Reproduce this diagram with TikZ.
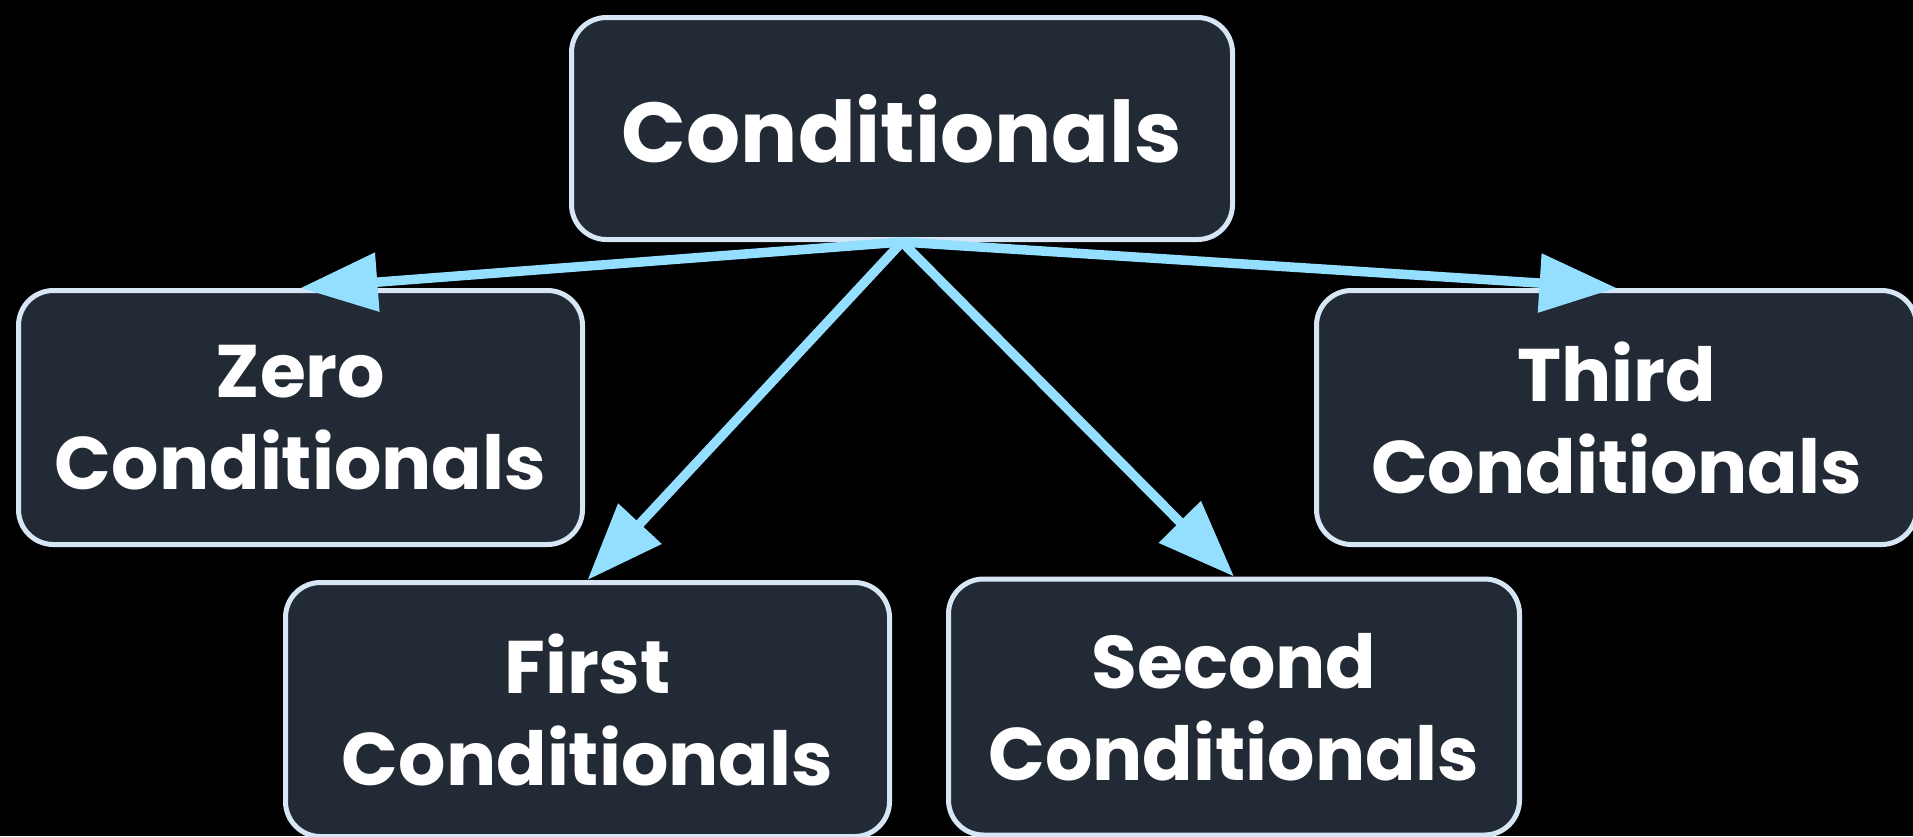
\documentclass[tikz,border=0pt]{standalone}
\usepackage{fontspec}
\setmainfont{Poppins}[BoldFont={* Bold}]
\usetikzlibrary{arrows.meta}
\definecolor{bgc}{HTML}{000000}
\definecolor{boxfill}{HTML}{222A35}
\definecolor{boxline}{HTML}{D6E6F5}
\definecolor{arrowc}{HTML}{94DFFF}
\tikzset{
  card/.style={draw=boxline, fill=boxfill, line width=5pt, rounded corners=35pt,
    inner sep=0pt, text=white, align=center, font=\bfseries\fontsize{74.5}{92}\selectfont},
  rootcard/.style={card, font=\bfseries\fontsize{85}{92}\selectfont},
  link/.style={draw=arrowc, line width=9.5pt, -{Triangle[length=77pt,width=57pt]}}
}
\begin{document}
\begin{tikzpicture}[x=1pt,y=-1pt]
  \fill[bgc] (0,0) rectangle (1913,836);
  \useasboundingbox (0,0) rectangle (1913,836);
  \node[rootcard, minimum width=661pt, minimum height=222pt] (root) at (902,128.5) {Conditionals};
  \node[card, minimum width=564pt, minimum height=254pt] (zero) at (300.5,417.5) {Zero\\Conditionals};
  \node[card, minimum width=600pt, minimum height=254pt] (third) at (1616.5,417.5) {Third\\Conditionals};
  \node[card, minimum width=604pt, minimum height=254pt] (first) at (587.5,709.5) {First\\Conditionals};
  \node[card, minimum width=571pt, minimum height=256pt] (second) at (1234,707) {Second\\Conditionals};
  \draw[link] (root.south) -- (zero.north);
  \draw[link] (root.south) -- (third.north);
  \draw[link] (root.south) -- (first.north);
  \draw[link] (root.south) -- (second.north);
\end{tikzpicture}
\end{document}
